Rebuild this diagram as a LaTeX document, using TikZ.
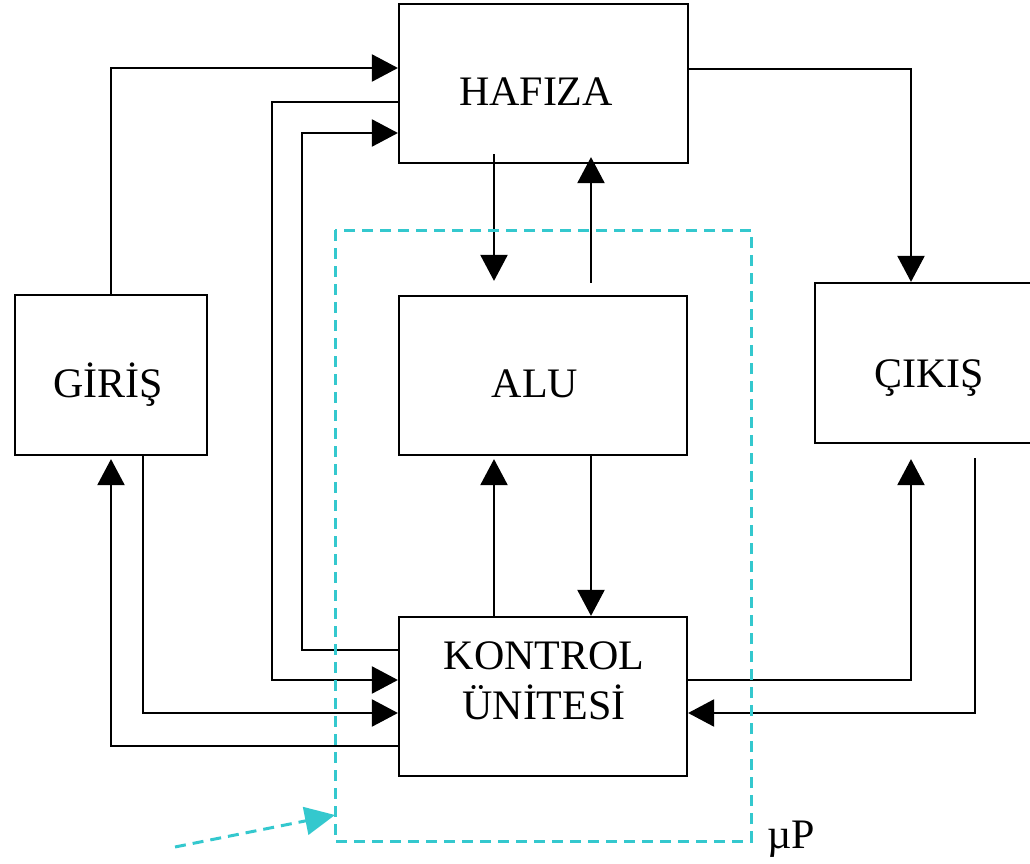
\documentclass[tikz,border=0pt]{standalone}
\usepackage{fontspec}
\setmainfont{Liberation Serif}
\usetikzlibrary{arrows.meta,calc}
\definecolor{mpcyan}{RGB}{52,200,206}
\begin{document}
\begin{tikzpicture}[x=1pt,y=-1pt,
  box/.style={draw, line width=2.2pt, inner sep=0pt},
  lbl/.style={anchor=base, inner sep=0pt, font=\fontsize{42}{48}\selectfont},
  ln/.style={line width=2.2pt},
  arr/.style={line width=2.2pt, -{Triangle[length=26pt,width=27pt]}},
  mpline/.style={mpcyan, line width=3pt, dash pattern=on 11pt off 7pt}]
\useasboundingbox (0,0) rectangle (1030,864);
\clip (0,0) rectangle (1030,864);
% boxes
\node[box, minimum width=289pt, minimum height=159pt] (haf) at (543.5,83.5) {};
\node[box, minimum width=192pt, minimum height=160pt] (gir) at (111,375) {};
\node[box, minimum width=288pt, minimum height=159pt] (alu) at (543,375.5) {};
\node[box, minimum width=240pt, minimum height=160pt] (cik) at (935,363) {};
\node[box, minimum width=288pt, minimum height=159pt] (kon) at (543,696.5) {};
% labels
\node[lbl] (hafT) at (536,106) {HAFIZA};
\node[lbl] (girT) at (108,397) {GİRİŞ};
\node[lbl] (aluT) at (535,397) {ALU};
\node[lbl] (cikT) at (929,387) {ÇIKIŞ};
\node[lbl] (konT1) at (544,669) {KONTROL};
\node[lbl] (konT2) at (544,719) {ÜNİTESİ};
\node[lbl, anchor=base west] (mpT) at (767,848) {µP};
% connectors
\draw[arr] (gir.north) |- (haf.west |- 0,68);
\draw[arr] (haf.west |- 0,102) -| (272,680) -- (kon.west |- 0,680);
\draw[arr] (kon.west |- 0,650) -| (302,133) -- (haf.west |- 0,133);
\draw[arr] ($(haf.south -| 494,0)+(0,-10)$) -- ($(alu.north -| 494,0)+(0,-14)$);
\draw[arr] ($(alu.north -| 591,0)+(0,-12)$) -- ($(haf.south -| 591,0)+(0,-7)$);
\draw[arr] (kon.north -| 494,0) -- ($(alu.south -| 494,0)+(0,3)$);
\draw[arr] (alu.south -| 591,0) -- (kon.north -| 591,0);
\draw[arr] (haf.east |- 0,69) -| (cik.north -| 911,0);
\draw[arr] (kon.east |- 0,680) -| ($(cik.south -| 911,0)+(0,15)$);
\draw[arr] ($(cik.south -| 975,0)+(0,14)$) |- (kon.east |- 0,713);
\draw[arr] (gir.south -| 143,0) |- (kon.west |- 0,713);
\draw[arr] (kon.west |- 0,746) -| ($(gir.south)+(0,3)$);
% microprocessor boundary
\coordinate (mpNW) at (335,230);
\coordinate (mpSE) at (751,841);
\coordinate (mpTail) at (175,847);
\draw[mpline] (mpNW) rectangle (mpSE);
\draw[mpline, -{Triangle[length=30pt,width=28pt]}] (mpTail) -- (mpNW |- 0,815);
\end{tikzpicture}
\end{document}
